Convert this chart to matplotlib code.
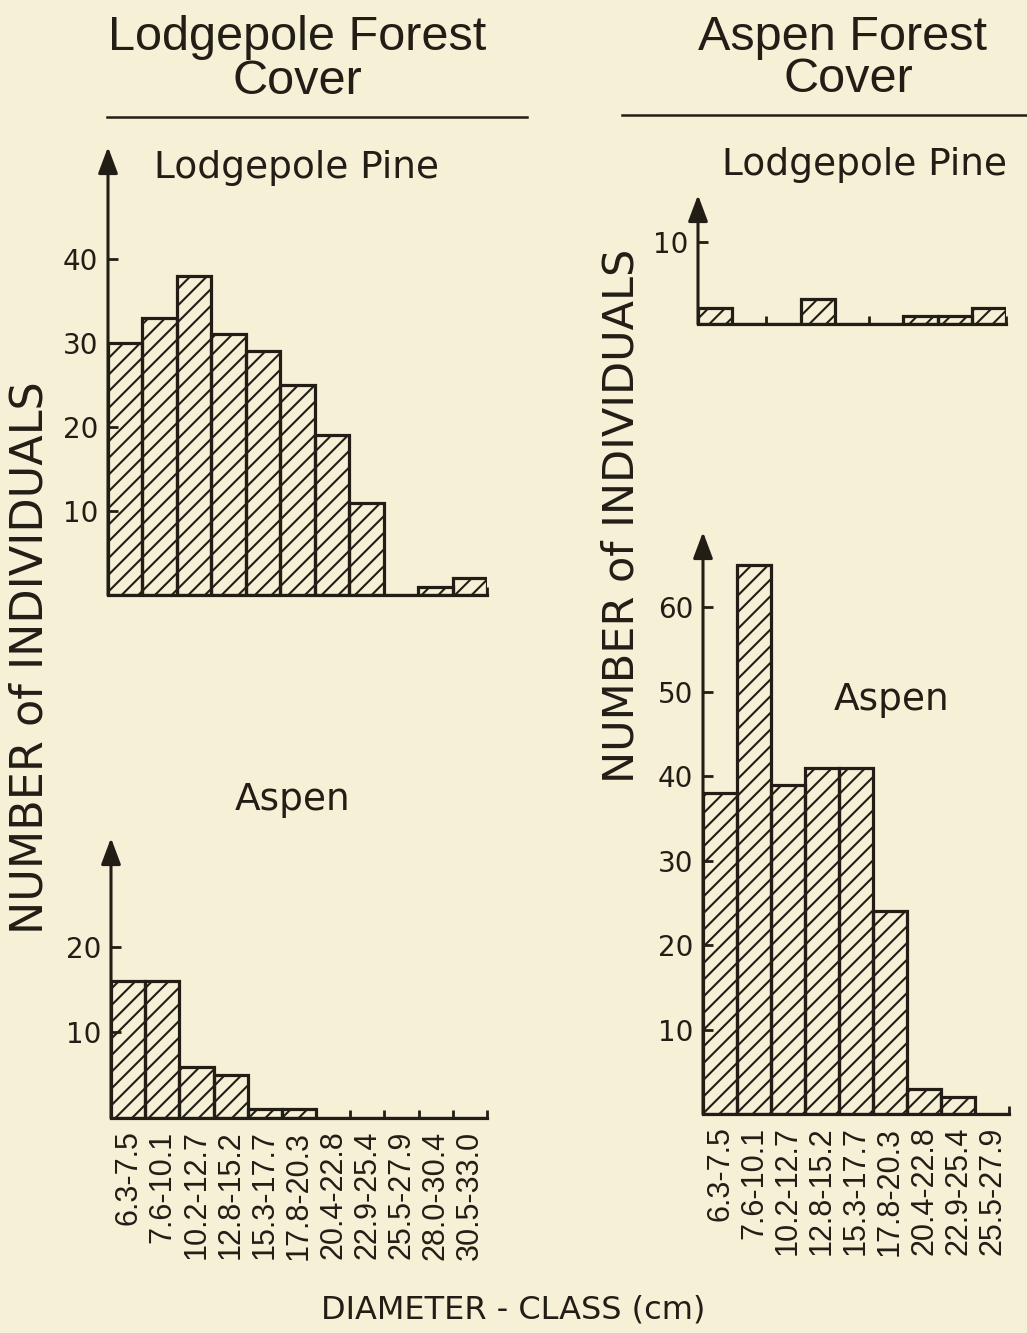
import matplotlib
matplotlib.use("Agg")
import matplotlib.pyplot as plt
from matplotlib.lines import Line2D

# diameter classes (cm)
classes_lp = ["6.3-7.5", "7.6-10.1", "10.2-12.7", "12.8-15.2", "15.3-17.7", "17.8-20.3",
              "20.4-22.8", "22.9-25.4", "25.5-27.9", "28.0-30.4", "30.5-33.0"]
classes_as = classes_lp[:9]

# Lodgepole forest cover
lpf_pine = [30, 33, 38, 31, 29, 25, 19, 11, 0, 1, 2]
lpf_aspen = [16, 16, 6, 5, 1, 1, 0, 0, 0, 0, 0]

# Aspen forest cover
asf_pine = [2, 0, 0, 3, 0, 0, 1, 1, 2]
asf_aspen = [38, 65, 39, 41, 41, 24, 3, 2, 0]

ink = "#221e16"
bg = "#f5f0d6"
W, H = 1027, 1333

plt.rcParams["hatch.color"] = ink
plt.rcParams["hatch.linewidth"] = 1.5
plt.rcParams["font.family"] = "DejaVu Sans"

fig = plt.figure(figsize=(W / 100, H / 100), dpi=100, facecolor=bg)


def px_axes(x0, x1, ybot, ytop):
    return fig.add_axes([x0 / W, 1 - ybot / H, (x1 - x0) / W, (ybot - ytop) / H])


def panel(ax, values, ymax, yticks, labels=None):
    n = len(values)
    ax.set_facecolor("none")
    ax.bar(range(n), values, width=1, align="edge", facecolor="none",
           edgecolor=ink, linewidth=2.3, hatch="//", zorder=3)
    ax.set_xlim(0, n)
    ax.set_ylim(0, ymax)
    for s in ["top", "right", "left"]:
        ax.spines[s].set_visible(False)
    ax.spines["bottom"].set_linewidth(2.3)
    ax.spines["bottom"].set_color(ink)
    ax.annotate("", xy=(0, 1), xycoords="axes fraction", xytext=(0, 0),
                arrowprops=dict(arrowstyle="-|>,head_length=0.8,head_width=0.3",
                                mutation_scale=20, lw=2.2, color=ink,
                                shrinkA=0, shrinkB=0))
    ax.set_yticks(yticks)
    ax.tick_params(axis="y", direction="in", length=7, width=2, color=ink,
                   labelsize=20, labelcolor=ink, pad=7)
    ax.set_xticks(range(n + 1))
    ax.tick_params(axis="x", direction="in", length=6, width=2, color=ink)
    ax.set_xticklabels([])
    if labels is not None:
        ax.set_xticks([i + 0.5 for i in range(n)], minor=True)
        ax.set_xticklabels(labels, minor=True, rotation=90, fontsize=22,
                           family="Liberation Sans", color=ink)
        ax.tick_params(axis="x", which="minor", length=0, pad=9)


ax1 = px_axes(108, 487, 595, 147)
panel(ax1, lpf_pine, 53.3, [10, 20, 30, 40])

ax2 = px_axes(111, 487, 1118, 838)
panel(ax2, lpf_aspen, 32.7, [10, 20], classes_lp)

ax3 = px_axes(698, 1006, 324, 195)
panel(ax3, asf_pine, 15.7, [10])

ax4 = px_axes(703, 1009, 1114, 532)
panel(ax4, asf_aspen, 68.9, [10, 20, 30, 40, 50, 60], classes_as)


def ftext(x, y, s, **kw):
    fig.text(x / W, 1 - y / H, s, ha="center", va="center", color=ink, **kw)


ftext(297, 38, "Lodgepole Forest", fontsize=35, family="Liberation Sans")
ftext(297, 82, "Cover", fontsize=35, family="Liberation Sans")
ftext(843, 38, "Aspen Forest", fontsize=35, family="Liberation Sans")
ftext(848, 80, "Cover", fontsize=35, family="Liberation Sans")

fig.add_artist(Line2D([107 / W, 527 / W], [1 - 117 / H] * 2, color=ink, lw=1.8))
fig.add_artist(Line2D([622 / W, 1.0], [1 - 115 / H] * 2, color=ink, lw=1.8))

ftext(296, 168, "Lodgepole Pine", fontsize=27)
ftext(865, 165, "Lodgepole Pine", fontsize=27)
ftext(293, 800, "Aspen", fontsize=27)
ftext(892, 700, "Aspen", fontsize=27)

ftext(30, 658, "NUMBER of INDIVIDUALS", fontsize=32, rotation=90)
ftext(622, 516, "NUMBER of INDIVIDUALS", fontsize=31, rotation=90)

ftext(513, 1310, "DIAMETER - CLASS (cm)", fontsize=23)

fig.savefig("out.png", dpi=100, facecolor=bg)
